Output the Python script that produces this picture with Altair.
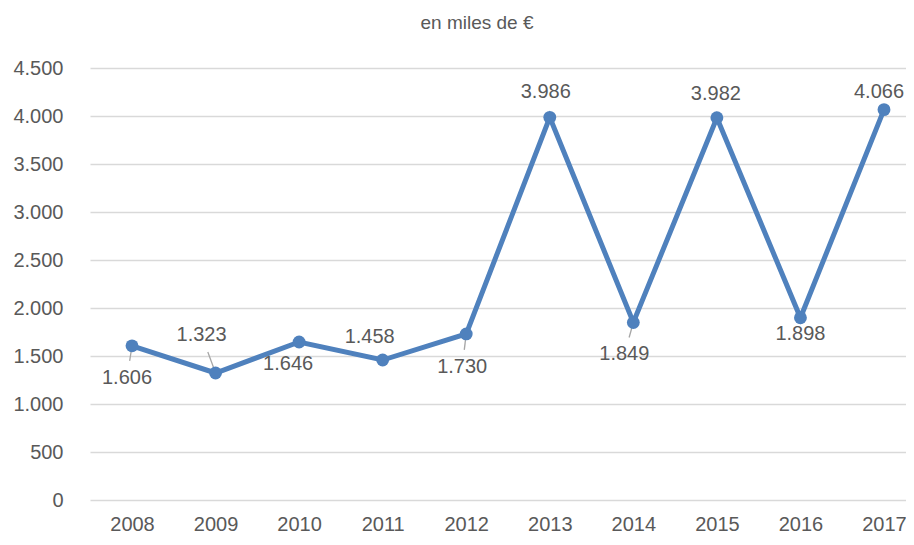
import altair as alt
import pandas as pd

# ---- data ----
years = [2008, 2009, 2010, 2011, 2012, 2013, 2014, 2015, 2016, 2017]
values = [1606, 1323, 1646, 1458, 1730, 3986, 1849, 3982, 1898, 4066]
y_ticks = [0, 500, 1000, 1500, 2000, 2500, 3000, 3500, 4000, 4500]
title_text = "en miles de €"

# ---- label placement (pixel offsets from each point) ----
label_dx = [-5, -14, -11, -13, -4, -4, -9, -1, 0, -5]
label_dy = [32, -38, 22, -23, 33, -25, 32, -24, 16, -18]
has_leader = [True, True, False, False, True, False, True, False, False, False]

# ---- geometry ----
W, H = 816, 432
X0, X1 = 2007.4973, 2017.2633
Y0, Y1 = 0, 4500
ppy = W / (X1 - X0)
ppu = H / (Y1 - Y0)

BLUE = "#4F81BD"
TXT = "#595959"
GRID = "#D9D9D9"
FONT = "Liberation Sans"

def fmt(v):
    return f"{v:,}".replace(",", ".")

df = pd.DataFrame({"year": years, "value": values})
df["label"] = [fmt(v) for v in values]
df["lx"] = [y + dx / ppy for y, dx in zip(years, label_dx)]
df["ly"] = [v - dy / ppu for v, dy in zip(values, label_dy)]

lead_rows = []
for y, v, dx, dy, h in zip(years, values, label_dx, label_dy, has_leader):
    if h:
        f = (abs(dy) - 17) / abs(dy)
        lead_rows.append({"x": y, "y": v, "x2": y + dx * f / ppy, "y2": v - dy * f / ppu})
lead_df = pd.DataFrame(lead_rows)

xscale = alt.Scale(domain=[X0, X1], nice=False, zero=False)
yscale = alt.Scale(domain=[Y0, Y1], nice=False)

x_axis = alt.Axis(values=years, format="d", grid=False, ticks=False, domain=False,
                  labelFontSize=20, labelColor=TXT, labelFont=FONT, labelPadding=14,
                  title=None)
y_axis = alt.Axis(values=y_ticks, grid=True, gridColor=GRID, gridWidth=1.3, ticks=False,
                  domain=False, labelFontSize=20, labelColor=TXT, labelFont=FONT,
                  labelPadding=27, title=None,
                  labelExpr="replace(format(datum.value, ','), ',', '.')")

base = alt.Chart(df)

line = base.mark_line(color=BLUE, strokeWidth=5).encode(
    x=alt.X("year:Q", scale=xscale, axis=x_axis),
    y=alt.Y("value:Q", scale=yscale, axis=y_axis),
)

points = base.mark_circle(color=BLUE, size=165, opacity=1).encode(
    x=alt.X("year:Q", scale=xscale),
    y=alt.Y("value:Q", scale=yscale),
)

leaders = alt.Chart(lead_df).mark_rule(color="#A6A6A6", strokeWidth=1.3).encode(
    x=alt.X("x:Q", scale=xscale),
    y=alt.Y("y:Q", scale=yscale),
    x2="x2:Q",
    y2="y2:Q",
)

labels = base.mark_text(fontSize=20, color=TXT, font=FONT, baseline="middle", align="center").encode(
    x=alt.X("lx:Q", scale=xscale),
    y=alt.Y("ly:Q", scale=yscale),
    text="label:N",
)

title = alt.Chart(pd.DataFrame({"t": [title_text]})).mark_text(
    fontSize=19, color=TXT, font=FONT, baseline="middle", align="center"
).encode(
    x=alt.value(387), y=alt.value(-45), text="t:N"
)

chart = alt.layer(leaders, line, points, labels, title).properties(
    width=W, height=H,
    autosize=alt.AutoSizeParams(type="none"),
    padding={"left": 82, "top": 60, "right": 0, "bottom": 37},
    background="white",
).configure_view(stroke=None)

chart.save("out.html", embed_options={"renderer": "svg", "actions": False})
